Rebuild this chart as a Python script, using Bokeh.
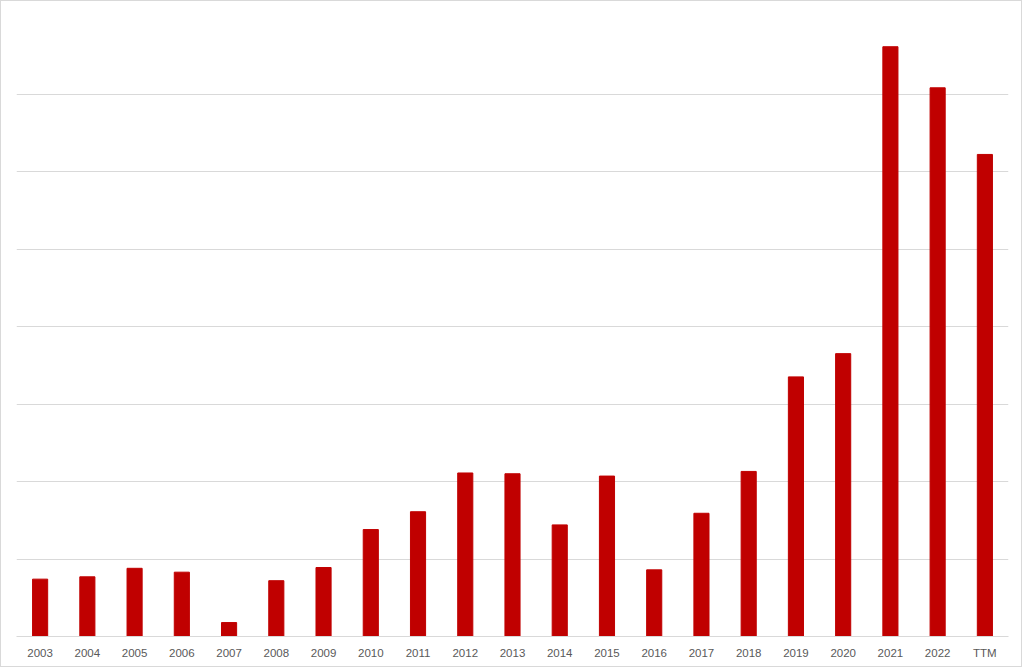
from bokeh.plotting import figure
from bokeh.models import FactorRange, Range1d, FixedTicker, ColumnDataSource
from bokeh.embed import file_html
from bokeh.resources import INLINE

years = ["2003", "2004", "2005", "2006", "2007", "2008", "2009", "2010", "2011",
         "2012", "2013", "2014", "2015", "2016", "2017", "2018", "2019", "2020",
         "2021", "2022", "TTM"]
values = [0.74, 0.77, 0.88, 0.83, 0.18, 0.72, 0.89, 1.38, 1.61,
          2.11, 2.10, 1.44, 2.07, 0.86, 1.59, 2.13, 3.35, 3.65,
          7.61, 7.08, 6.22]
grid_ticks = [0, 1, 2, 3, 4, 5, 6, 7, 8]

source = ColumnDataSource(data=dict(x=years, top=values))

p = figure(x_range=FactorRange(*years, range_padding=0), y_range=Range1d(0, 8),
           width=1022, height=667, output_backend="svg", toolbar_location=None,
           min_border_left=15, min_border_right=15, min_border_top=15, min_border_bottom=32,
           styles={"border": "1px solid #D9D9D9"})

p.vbar(x="x", top="top", width=0.32, source=source, fill_color="#C00000",
       line_color="#C00000")

p.outline_line_color = None
p.yaxis.visible = False
p.xgrid.visible = False
p.ygrid.ticker = FixedTicker(ticks=grid_ticks)
p.ygrid.grid_line_color = "#D9D9D9"
p.ygrid.grid_line_width = 1

ax = p.xaxis[0]
ax.axis_line_color = "#D9D9D9"
ax.major_tick_line_color = None
ax.minor_tick_line_color = None
ax.major_tick_out = 0
ax.major_tick_in = 0
ax.major_label_standoff = 10
ax.major_label_text_font = "Liberation Sans"
ax.major_label_text_font_size = "11.5px"
ax.major_label_text_color = "#595959"

open("out.html", "w").write(file_html(p, INLINE))
